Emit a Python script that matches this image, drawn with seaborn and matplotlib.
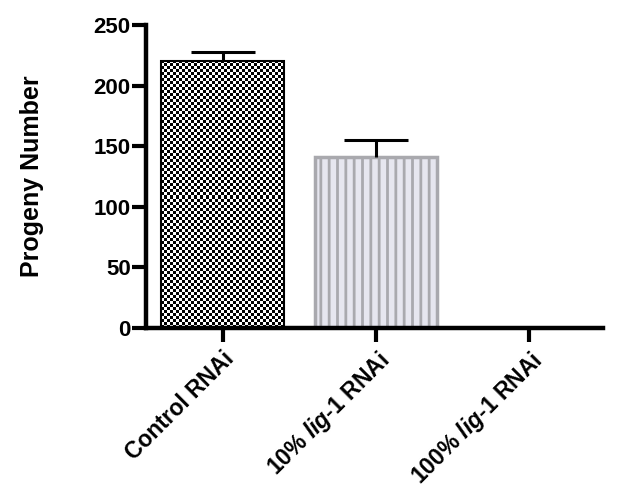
import numpy as np
import pandas as pd
import matplotlib
matplotlib.use("Agg")
import matplotlib.pyplot as plt
import seaborn as sns

categories = ["Control RNAi", r"10% $\mathit{lig}$-1 RNAi", r"100% $\mathit{lig}$-1 RNAi"]
means = [220.5, 141.5, 0.0]
upper_err = [7.0, 14.0, 0.0]
yticks = [0, 50, 100, 150, 200, 250]

sns.set_style("ticks")
plt.rcParams["font.family"] = ["Liberation Sans", "DejaVu Sans"]
plt.rcParams["font.weight"] = "bold"
plt.rcParams["mathtext.fontset"] = "custom"
plt.rcParams["mathtext.rm"] = "Liberation Sans:bold"
plt.rcParams["mathtext.it"] = "Liberation Sans:bold:italic"
plt.rcParams["hatch.linewidth"] = 2.0
for key in ["text.color", "axes.labelcolor", "xtick.color", "ytick.color",
            "xtick.labelcolor", "ytick.labelcolor"]:
    plt.rcParams[key] = "black"

fig = plt.figure(figsize=(6.17, 4.98), dpi=100)
ax_left, ax_right, ax_top, ax_bottom = 146, 603, 25, 328
ax = fig.add_axes([ax_left / 617, 1 - ax_bottom / 498,
                   (ax_right - ax_left) / 617, (ax_bottom - ax_top) / 498])
xlim = (-0.50, 2.48)

df = pd.DataFrame({"group": categories, "value": means})
sns.barplot(data=df, x="group", y="value", ax=ax, errorbar=None, width=0.8,
            color="white", saturation=1)

patches = ax.patches
# Control: checkerboard
p0 = patches[0]
p0.set_edgecolor("black")
p0.set_linewidth(1.5)
bb = p0.get_bbox()
ncols = 41
px_per_x = (ax_right - ax_left) / (xlim[1] - xlim[0])
px_w = (bb.x1 - bb.x0) * px_per_x
px_h = (bb.y1 - bb.y0) * (ax_bottom - ax_top) / 250
cell = px_w / ncols
nrows = int(round(px_h / cell))
checker = (np.indices((nrows, ncols)).sum(axis=0) % 2).astype(float)
im = ax.imshow(checker, cmap="gray", extent=[bb.x0, bb.x1, bb.y0, bb.y1],
               aspect="auto", interpolation="nearest", zorder=p0.get_zorder() + 0.1)
im.set_clip_path(p0)
p0.set_zorder(p0.get_zorder() + 0.2)
p0.set_facecolor("none")

# 10%: light lavender with vertical gray lines
p1 = patches[1]
p1.set_facecolor("#E6E6EF")
p1.set_edgecolor("#A9A9AE")
p1.set_linewidth(2.5)
p1.set_hatch("||")

x = np.arange(len(categories))
eb = ax.errorbar(x, means, yerr=[np.zeros(len(means)), upper_err], fmt="none",
                 ecolor="black", elinewidth=2.2, capsize=23, capthick=2.2, zorder=5)
# keep only the upper caps
caplines = eb[1]
if len(caplines) == 2:
    caplines[0].remove()
upper_caps = caplines[-1]
xd = np.asarray(upper_caps.get_xdata(), dtype=float)
yd = np.asarray(upper_caps.get_ydata(), dtype=float)
keep = np.array(upper_err) > 0
upper_caps.set_data(xd[keep], yd[keep])

ax.set_xlim(*xlim)
ax.set_ylim(0, 250)
ax.set_yticks(yticks)
ax.set_yticklabels([str(v) for v in yticks])

for s in ["top", "right"]:
    ax.spines[s].set_visible(False)
for s in ["left", "bottom"]:
    ax.spines[s].set_linewidth(3.2)
    ax.spines[s].set_color("black")

ax.tick_params(axis="y", length=10, width=3, labelsize=16, pad=1, color="black",
               labelcolor="black")
ax.tick_params(axis="x", length=10, width=3, labelsize=16.5, pad=4, color="black",
               labelcolor="black")
ax.set_xticks(x)
ax.set_xticklabels(categories, rotation=45, ha="right", rotation_mode="anchor",
                   fontweight="bold")
for lab in ax.get_yticklabels():
    lab.set_fontweight("bold")

ax.set_xlabel("")
ax.set_ylabel("Progeny Number", fontsize=18, fontweight="bold", labelpad=36,
              color="black")

fig.savefig("out.png", dpi=100)
